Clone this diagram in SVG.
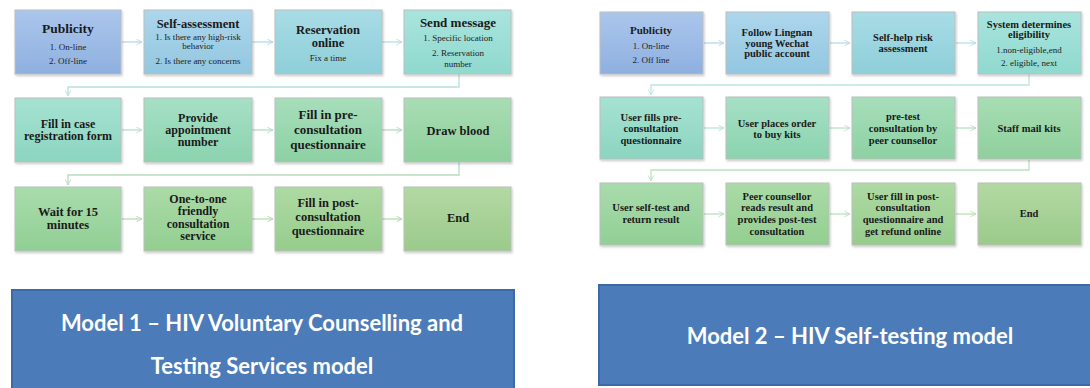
<svg xmlns="http://www.w3.org/2000/svg" width="1090" height="388" viewBox="0 0 1090 388">
<style>
.bx{stroke:#b9bfbd;stroke-width:1;filter:url(#sh)}
.t{font-family:"Liberation Serif","Times New Roman","DejaVu Serif",serif;font-weight:bold;fill:#1a1a1a;text-anchor:middle}
.s{font-family:"Liberation Serif","Times New Roman","DejaVu Serif",serif;fill:#222;text-anchor:middle;font-size:9px}
.c{fill:none;stroke-width:1.3}
.lab{fill:#4b7bb9;stroke:#3c6aa6;stroke-width:2}
.lt{font-family:Lato,"Liberation Sans",sans-serif;font-weight:bold;fill:#fff;font-size:22px;text-anchor:middle}
</style>
<defs>
<filter id="sh" x="-10%" y="-10%" width="125%" height="125%"><feDropShadow dx="1" dy="1.5" stdDeviation="1" flood-color="#000" flood-opacity="0.22"/></filter>
<linearGradient id="g1" x1="0" y1="0" x2="0" y2="1"><stop offset="0" stop-color="#abc6ec"/><stop offset="1" stop-color="#8eb0e0"/></linearGradient>
<linearGradient id="g2" x1="0" y1="0" x2="0" y2="1"><stop offset="0" stop-color="#add6ec"/><stop offset="1" stop-color="#92c7e0"/></linearGradient>
<linearGradient id="g3" x1="0" y1="0" x2="0" y2="1"><stop offset="0" stop-color="#a8dce6"/><stop offset="1" stop-color="#8ecfd9"/></linearGradient>
<linearGradient id="g4" x1="0" y1="0" x2="0" y2="1"><stop offset="0" stop-color="#a9e4de"/><stop offset="1" stop-color="#8fd9ce"/></linearGradient>
<linearGradient id="g5" x1="0" y1="0" x2="0" y2="1"><stop offset="0" stop-color="#a6e2d2"/><stop offset="1" stop-color="#8bd5bf"/></linearGradient>
<linearGradient id="g6" x1="0" y1="0" x2="0" y2="1"><stop offset="0" stop-color="#a6e0c6"/><stop offset="1" stop-color="#8bd3af"/></linearGradient>
<linearGradient id="g7" x1="0" y1="0" x2="0" y2="1"><stop offset="0" stop-color="#a7debb"/><stop offset="1" stop-color="#8dd1a3"/></linearGradient>
<linearGradient id="g8" x1="0" y1="0" x2="0" y2="1"><stop offset="0" stop-color="#a8ddb3"/><stop offset="1" stop-color="#8fd09c"/></linearGradient>
<linearGradient id="g9" x1="0" y1="0" x2="0" y2="1"><stop offset="0" stop-color="#a9dcac"/><stop offset="1" stop-color="#91cf95"/></linearGradient>
<linearGradient id="g10" x1="0" y1="0" x2="0" y2="1"><stop offset="0" stop-color="#abdba7"/><stop offset="1" stop-color="#93ce90"/></linearGradient>
<linearGradient id="g11" x1="0" y1="0" x2="0" y2="1"><stop offset="0" stop-color="#aedaa3"/><stop offset="1" stop-color="#96cc8c"/></linearGradient>
<linearGradient id="g12" x1="0" y1="0" x2="0" y2="1"><stop offset="0" stop-color="#b3d9a3"/><stop offset="1" stop-color="#9bca8b"/></linearGradient>
<marker id="ar" viewBox="0 0 10 10" refX="9" refY="5" markerWidth="7" markerHeight="7" orient="auto" markerUnits="userSpaceOnUse"><path d="M1,1 L9,5 L1,9" fill="none" stroke="context-stroke" stroke-width="1.3"/></marker>
</defs>

<g id="connectors">
<path class="c" stroke="#b6d8e6" marker-end="url(#ar)" d="M122,42 H142"/>
<path class="c" stroke="#b6d8e6" marker-end="url(#ar)" d="M252,42 H273"/>
<path class="c" stroke="#b6dde2" marker-end="url(#ar)" d="M382,42 H402"/>
<path class="c" stroke="#b6e0dc" marker-end="url(#ar)" d="M459,74 V87 H68 V96"/>
<path class="c" stroke="#b4e0cc" marker-end="url(#ar)" d="M122,130 H142"/>
<path class="c" stroke="#b4dec4" marker-end="url(#ar)" d="M252,130 H273"/>
<path class="c" stroke="#b4dcbc" marker-end="url(#ar)" d="M382,130 H402"/>
<path class="c" stroke="#b8dcbc" marker-end="url(#ar)" d="M459,162 V175 H68 V185"/>
<path class="c" stroke="#b8dab4" marker-end="url(#ar)" d="M122,219 H142"/>
<path class="c" stroke="#b8dab4" marker-end="url(#ar)" d="M252,219 H273"/>
<path class="c" stroke="#b8dab0" marker-end="url(#ar)" d="M382,219 H402"/>

<path class="c" stroke="#b6d6ee" marker-end="url(#ar)" d="M704,43 H724"/>
<path class="c" stroke="#b6dcec" marker-end="url(#ar)" d="M830,43 H850"/>
<path class="c" stroke="#b6e0e6" marker-end="url(#ar)" d="M956,43 H976"/>
<path class="c" stroke="#bce6e2" marker-end="url(#ar)" d="M1029,74 V85 H651 V95"/>
<path class="c" stroke="#b6e6d0" marker-end="url(#ar)" d="M704,128 H724"/>
<path class="c" stroke="#b6e4c8" marker-end="url(#ar)" d="M830,128 H850"/>
<path class="c" stroke="#b6e2c0" marker-end="url(#ar)" d="M956,128 H976"/>
<path class="c" stroke="#bce2c0" marker-end="url(#ar)" d="M1029,160 V170 H651 V181"/>
<path class="c" stroke="#bce0bc" marker-end="url(#ar)" d="M704,214 H724"/>
<path class="c" stroke="#bce0bc" marker-end="url(#ar)" d="M830,214 H850"/>
<path class="c" stroke="#bce0b8" marker-end="url(#ar)" d="M956,214 H976"/>
</g>

<!-- Model 1 -->
<g id="m1-publicity"><rect class="bx" x="15" y="10" width="106" height="64" fill="url(#g1)"/>
<text class="t" x="68" y="33" font-size="13.5">Publicity</text>
<text class="s" x="68" y="50">1. On-line</text><text class="s" x="68" y="64">2. Off-line</text></g>
<g id="m1-selfassess"><rect class="bx" x="144" y="10" width="108" height="64" fill="url(#g2)"/>
<text class="t" x="198" y="28" font-size="12.5">Self-assessment</text>
<text class="s" x="198" y="40" font-size="8">1. Is there any high-risk</text><text class="s" x="198" y="48.5" font-size="8">behavior</text>
<text class="s" x="198" y="64" font-size="8.5">2. Is there any  concerns</text></g>
<g id="m1-reservation"><rect class="bx" x="275" y="10" width="107" height="64" fill="url(#g3)"/>
<text class="t" x="328" y="34" font-size="12.5">Reservation</text><text class="t" x="328" y="47" font-size="12.5">online</text>
<text class="s" x="328" y="61">Fix a time</text></g>
<g id="m1-sendmsg"><rect class="bx" x="404" y="10" width="107" height="64" fill="url(#g4)"/>
<text class="t" x="458" y="27" font-size="13">Send message</text>
<text class="s" x="458" y="41">1. Specific location</text><text class="s" x="458" y="56">2. Reservation</text><text class="s" x="458" y="67">number</text></g>

<g id="m1-fillcase"><rect class="bx" x="15" y="98" width="106" height="64" fill="url(#g5)"/>
<text class="t" x="68" y="128" font-size="12">Fill in case</text><text class="t" x="68" y="140" font-size="12">registration form</text></g>
<g id="m1-provide"><rect class="bx" x="144" y="98" width="108" height="64" fill="url(#g6)"/>
<text class="t" x="198" y="122" font-size="12">Provide</text><text class="t" x="198" y="134" font-size="12">appointment</text><text class="t" x="198" y="146" font-size="12">number</text></g>
<g id="m1-fillpre"><rect class="bx" x="275" y="98" width="107" height="64" fill="url(#g7)"/>
<text class="t" x="328" y="119" font-size="13">Fill in pre-</text><text class="t" x="328" y="134" font-size="13">consultation</text><text class="t" x="328" y="149" font-size="13">questionnaire</text></g>
<g id="m1-draw"><rect class="bx" x="404" y="98" width="107" height="64" fill="url(#g8)"/>
<text class="t" x="458" y="135" font-size="12.5">Draw blood</text></g>

<g id="m1-wait"><rect class="bx" x="15" y="187" width="106" height="64" fill="url(#g9)"/>
<text class="t" x="68" y="216" font-size="12.5">Wait for 15</text><text class="t" x="68" y="229" font-size="12.5">minutes</text></g>
<g id="m1-onetoone"><rect class="bx" x="144" y="187" width="108" height="64" fill="url(#g10)"/>
<text class="t" x="198" y="203" font-size="12">One-to-one</text><text class="t" x="198" y="215" font-size="12">friendly</text><text class="t" x="198" y="228" font-size="12">consultation</text><text class="t" x="198" y="240" font-size="12">service</text></g>
<g id="m1-fillpost"><rect class="bx" x="275" y="187" width="107" height="64" fill="url(#g11)"/>
<text class="t" x="328" y="207" font-size="12.5">Fill in post-</text><text class="t" x="328" y="221" font-size="12.5">consultation</text><text class="t" x="328" y="235" font-size="12.5">questionnaire</text></g>
<g id="m1-end"><rect class="bx" x="404" y="187" width="107" height="64" fill="url(#g12)"/>
<text class="t" x="458" y="222" font-size="12.5">End</text></g>

<!-- Model 2 -->
<g id="m2-publicity"><rect class="bx" x="600" y="12" width="103" height="62" fill="url(#g1)"/>
<text class="t" x="651" y="34" font-size="11">Publicity</text>
<text class="s" x="651" y="49" font-size="8.5">1. On-line</text><text class="s" x="651" y="63" font-size="8.5">2. Off line</text></g>
<g id="m2-follow"><rect class="bx" x="726" y="12" width="103" height="62" fill="url(#g2)"/>
<text class="t" x="777" y="36" font-size="10.5">Follow Lingnan</text><text class="t" x="777" y="47" font-size="10.5">young Wechat</text><text class="t" x="777" y="57" font-size="10.5">public account</text></g>
<g id="m2-selfhelp"><rect class="bx" x="852" y="12" width="103" height="62" fill="url(#g3)"/>
<text class="t" x="903" y="41" font-size="10.5">Self-help risk</text><text class="t" x="903" y="52" font-size="10.5">assessment</text></g>
<g id="m2-system"><rect class="bx" x="978" y="12" width="103" height="62" fill="url(#g4)"/>
<text class="t" x="1029" y="28" font-size="10.5">System determines</text><text class="t" x="1029" y="38" font-size="10.5">eligibility</text>
<text class="s" x="1029" y="53" font-size="8.5">1.non-eligible,end</text><text class="s" x="1029" y="66" font-size="8.5">2. eligible,  next</text></g>

<g id="m2-userfills"><rect class="bx" x="600" y="97" width="103" height="62" fill="url(#g5)"/>
<text class="t" x="651" y="121" font-size="10.5">User fills  pre-</text><text class="t" x="651" y="132" font-size="10.5">consultation</text><text class="t" x="651" y="144" font-size="10.5">questionnaire</text></g>
<g id="m2-order"><rect class="bx" x="726" y="97" width="103" height="62" fill="url(#g6)"/>
<text class="t" x="777" y="127" font-size="10.5">User places order</text><text class="t" x="777" y="138" font-size="10.5">to buy kits</text></g>
<g id="m2-pretest"><rect class="bx" x="852" y="97" width="103" height="62" fill="url(#g7)"/>
<text class="t" x="903" y="120" font-size="10.5">pre-test</text><text class="t" x="903" y="132" font-size="10.5">consultation by</text><text class="t" x="903" y="144" font-size="10.5">peer counsellor</text></g>
<g id="m2-mail"><rect class="bx" x="978" y="97" width="103" height="62" fill="url(#g8)"/>
<text class="t" x="1029" y="132" font-size="10.5">Staff mail  kits</text></g>

<g id="m2-selftest"><rect class="bx" x="600" y="183" width="103" height="62" fill="url(#g9)"/>
<text class="t" x="651" y="211" font-size="10.5">User self-test and</text><text class="t" x="651" y="223" font-size="10.5">return result</text></g>
<g id="m2-peer"><rect class="bx" x="726" y="183" width="103" height="62" fill="url(#g10)"/>
<text class="t" x="777" y="200" font-size="10.5">Peer counsellor</text><text class="t" x="777" y="211" font-size="10.5">reads result and</text><text class="t" x="777" y="223" font-size="10.5">provides post-test</text><text class="t" x="777" y="235" font-size="10.5">consultation</text></g>
<g id="m2-userfill"><rect class="bx" x="852" y="183" width="103" height="62" fill="url(#g11)"/>
<text class="t" x="903" y="200" font-size="10.5">User fill  in  post-</text><text class="t" x="903" y="211" font-size="10.5">consultation</text><text class="t" x="903" y="223" font-size="10.5">questionnaire and</text><text class="t" x="903" y="235" font-size="10.5">get refund online</text></g>
<g id="m2-end"><rect class="bx" x="978" y="183" width="103" height="62" fill="url(#g12)"/>
<text class="t" x="1029" y="217" font-size="10.5">End</text></g>

<g id="label1"><rect class="lab" x="12" y="290" width="502" height="104"/>
<text class="lt" x="262" y="331">Model 1 – HIV Voluntary Counselling and</text>
<text class="lt" x="262" y="374">Testing Services model</text></g>
<g id="label2"><rect class="lab" x="599" y="285" width="494" height="100"/>
<text class="lt" x="850" y="344">Model 2 – HIV Self-testing model</text></g>
</svg>
